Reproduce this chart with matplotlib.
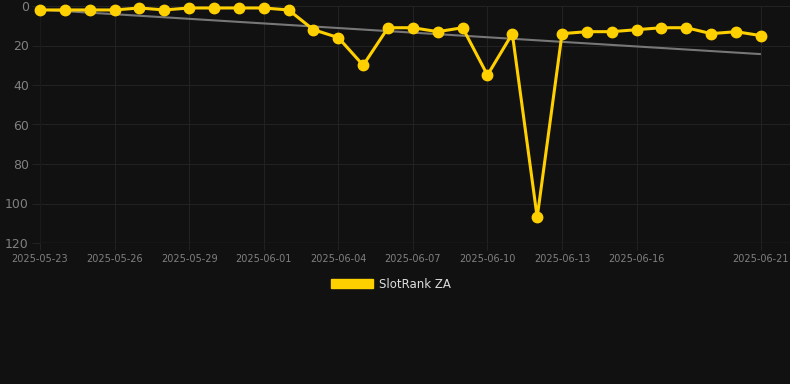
import matplotlib
matplotlib.use("Agg")
import matplotlib.pyplot as plt
import matplotlib.dates as mdates
import numpy as np
import pandas as pd
from matplotlib.patches import Patch

dates = pd.date_range("2025-05-23", "2025-06-21", freq="D")
ranks = [2, 2, 2, 2, 1, 2, 1, 1, 1, 1, 2, 12, 16, 30, 11, 11, 13, 11, 35, 14,
         107, 14, 13, 13, 12, 11, 11, 14, 13, 15]
tick_labels = ["2025-05-23", "2025-05-26", "2025-05-29", "2025-06-01", "2025-06-04",
               "2025-06-07", "2025-06-10", "2025-06-13", "2025-06-16", "2025-06-21"]
series_name = "SlotRank ZA"

bg = "#111111"
grid_c = "#222222"
text_c = "#808080"
yellow = "#FFD000"

fig = plt.figure(figsize=(7.9, 3.84), dpi=100, facecolor=bg)
ax = fig.add_axes([40/790, 1-243/384, 750/790, (243-6)/384])
ax.set_facecolor(bg)

x = mdates.date2num(dates)
# trend line (least squares)
coef = np.polyfit(np.arange(len(ranks)), ranks, 1)
trend = np.polyval(coef, np.arange(len(ranks)))
ax.plot([x[0], x[-1]], [trend[0], trend[-1]], color="#777777", lw=1.5, zorder=2,
        solid_capstyle="butt")

ax.plot(x, ranks, color=yellow, lw=2.2, marker="o", markersize=7.5,
        markerfacecolor=yellow, markeredgecolor=yellow, zorder=3, clip_on=False)

ax.set_ylim(120, 0)
ax.set_yticks([0, 20, 40, 60, 80, 100, 120])
x0 = x[0]
ax.set_xlim(x0, x0 + 30.17)
ax.set_xticks(mdates.date2num(pd.to_datetime(tick_labels)))
ax.set_xticklabels(tick_labels)

ax.grid(True, color=grid_c, lw=0.8)
ax.set_axisbelow(True)
for s in ax.spines.values():
    s.set_visible(False)
ax.tick_params(axis="y", colors=grid_c, labelcolor=text_c, labelsize=9, length=6, width=0.8, pad=2)
ax.tick_params(axis="x", colors=grid_c, labelcolor=text_c, labelsize=7, length=5, width=0.8, pad=3)
ax.axhline(120, color="#2c2c2c", lw=1)
ax.axvline(x0, color="#1a1a1a", lw=1)

leg = fig.legend(handles=[Patch(facecolor=yellow, edgecolor=yellow, label=series_name)],
                 loc="center", bbox_to_anchor=(391/790, 1-284/384), frameon=False,
                 handlelength=3.6, handleheight=0.9, handletextpad=0.5,
                 fontsize=8.5, labelcolor="#dddddd")

fig.savefig("out.png", dpi=100, facecolor=bg)
